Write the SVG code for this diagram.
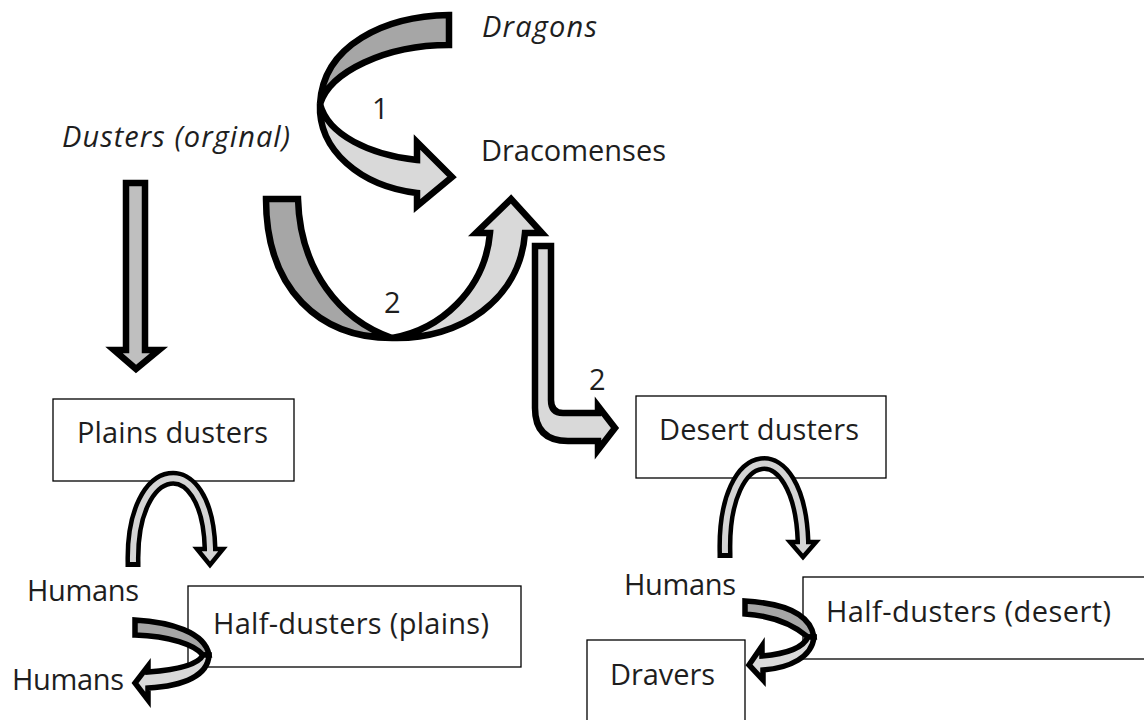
<svg xmlns="http://www.w3.org/2000/svg" width="1144" height="720" viewBox="0 0 1144 720">
<style>
text{font-family:"Open Sans","Noto Sans",sans-serif;font-size:29px;fill:#1e1e1e}
.it{font-style:italic}
.box{fill:#fff;stroke:#000;stroke-width:1.3}
.big{stroke:#000;stroke-width:6.5;stroke-linejoin:miter}
.sm{stroke:#000;stroke-width:5.5;stroke-linejoin:miter}
.dk{fill:#a6a6a6}
.lt{fill:#d9d9d9}
.archO{fill:none;stroke:#000;stroke-width:15}
.archI{fill:none;stroke:#d4d4d4;stroke-width:6}
.head{fill:#d4d4d4;stroke:#000;stroke-width:4.5}
</style>
<rect width="1144" height="720" fill="#fff"/>
<g id="dragons"><text class="it" x="482" y="37" textLength="115">Dragons</text></g>
<g id="dusters"><text class="it" x="62" y="147" textLength="228">Dusters (orginal)</text></g>
<g id="dracomenses"><text x="481" y="161" textLength="185">Dracomenses</text></g>
<g id="plains"><rect class="box" x="53" y="399" width="241" height="82"/><text x="77" y="443" textLength="191">Plains dusters</text></g>
<g id="desert"><rect class="box" x="636" y="396" width="250" height="82"/><text x="659" y="440" textLength="200">Desert dusters</text></g>
<g id="humans1"><text x="27" y="601" textLength="112">Humans</text></g>
<g id="halfplains"><rect class="box" x="188" y="586" width="333" height="81"/><text x="213" y="634" textLength="276">Half-dusters (plains)</text></g>
<g id="humans2"><text x="12" y="690" textLength="112">Humans</text></g>
<g id="humans3"><text x="624" y="595" textLength="112">Humans</text></g>
<g id="halfdesert"><rect class="box" x="803" y="577" width="345" height="82"/><text x="826" y="622" textLength="285">Half-dusters (desert)</text></g>
<g id="dravers"><rect class="box" x="587" y="640" width="158" height="85"/><text x="610" y="685" textLength="105">Dravers</text></g>
<g id="connectors">
<path class="big dk" d="M449,15 C 385,16 323,45 320,104 C 330,72 385,45 449,45 Z"/>
<path class="big lt" d="M320,104 C 318,150 360,186 417,193 L417,206 L452,177 L417,142 L417,160 C 370,155 328,135 320,104 Z"/>
<text x="372" y="119">1</text>
<path class="big dk" d="M266,199 C 266,290 320,338 392,338 C 340,320 300,270 298,199 Z"/>
<path class="big lt" d="M392,338 C 460,340 520,300 525,233 L542,233 L511,199 L476,233 L490,233 C 485,290 440,330 392,338 Z"/>
<text x="384" y="313">2</text>
<path class="big" fill="#bfbfbf" d="M126,183 L145,183 L145,350 L159,350 L136,369 L114,350 L126,350 Z"/>
<path class="big lt" d="M535,246 L551,246 L551,400 Q551,413 563,413 L598,413 L598,406 L615,428 L598,450 L598,441 L568,441 Q535,441 535,408 Z"/>
<text x="589" y="390">2</text>
<path class="archO" d="M133,567 L133,562 C 131,458 207,448 210,548"/>
<polygon class="head" points="197,549 223,549 210,565"/>
<path class="archI" d="M133,562 C 131,458 207,448 210,548 L210,553"/>
<path class="archO" d="M725,558 L725,553 C 722,440 799,432 803,541"/>
<polygon class="head" points="790,542 816,542 803,557"/>
<path class="archI" d="M725,553 C 722,440 799,432 803,541 L803,546"/>
<path class="sm dk" d="M135,620 C 170,622 205,632 209,655 L203,655 C 195,645 170,636 135,635 Z"/>
<path class="sm lt" d="M209,655 C 208,675 185,686 148,688 L148,700 L135,683 L148,666 L148,672 C 175,670 198,665 203,655 Z"/>
<path class="sm dk" d="M745,601 C 780,603 810,612 814,637 L808,637 C 795,626 775,616 745,614 Z"/>
<path class="sm lt" d="M814,637 C 812,657 790,668 763,670 L763,680 L749,665 L762,646 L762,656 C 785,654 803,648 808,637 Z"/>
</g>
</svg>
